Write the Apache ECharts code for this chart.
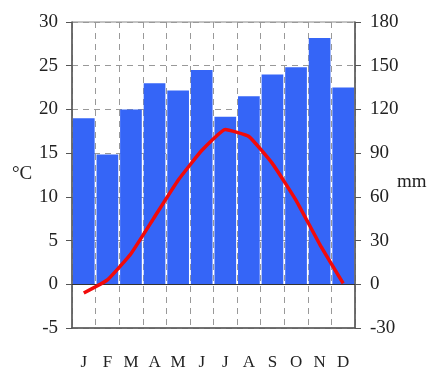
<!DOCTYPE html>
<html>
<head>
<meta charset="utf-8">
<script src="https://cdn.jsdelivr.net/npm/echarts@6/dist/echarts.min.js"></script>
<style>
  html, body { margin: 0; padding: 0; background: #fff; }
  #chart { width: 429px; height: 367px; }
</style>
</head>
<body>
<div id="chart"></div>
<script>
// Monthly climate data
const months = ['J', 'F', 'M', 'A', 'M', 'J', 'J', 'A', 'S', 'O', 'N', 'D'];
const precipitationMm = [114, 89, 120, 138, 133, 147, 115, 129, 144, 149, 169, 135];
const temperatureC = [-1.0, 0.5, 3.5, 7.7, 11.9, 15.3, 17.7, 16.9, 13.8, 9.6, 4.6, 0.1];
const tempTicks = { min: -5, max: 30, interval: 5 };
const rainTicks = { min: -30, max: 180, interval: 30 };

const serif = '"Liberation Serif", "DejaVu Serif", serif';
const axisGray = '#555';

const chart = echarts.init(document.getElementById('chart'), null, { renderer: 'canvas' });

chart.setOption({
  animation: false,
  backgroundColor: '#fff',
  textStyle: { fontFamily: serif },
  grid: {
    left: 72, right: 74, top: 22, bottom: 39,
    containLabel: false,
    outerBoundsMode: 'none',
    show: true, borderColor: '#888', borderWidth: 1
  },
  xAxis: {
    type: 'category',
    data: months,
    axisLine: { onZero: false, lineStyle: { color: axisGray, width: 1.5 } },
    axisTick: { show: false },
    axisLabel: { color: '#222', fontSize: 17, fontFamily: serif, margin: 26 },
    splitLine: { show: true, interval: 0, lineStyle: { color: '#999', type: [6, 5], width: 1 } }
  },
  yAxis: [
    {
      type: 'value',
      position: 'left',
      min: tempTicks.min, max: tempTicks.max, interval: tempTicks.interval,
      axisLine: { show: true, lineStyle: { color: axisGray, width: 1.5 } },
      axisTick: { show: true, inside: false, length: 6, lineStyle: { color: axisGray } },
      axisLabel: { color: '#222', fontSize: 19, fontFamily: serif, margin: 14 },
      splitLine: { show: true, lineStyle: { color: '#999', type: [6, 5], width: 1 } }
    },
    {
      type: 'value',
      position: 'right',
      min: rainTicks.min, max: rainTicks.max, interval: rainTicks.interval,
      axisLine: { show: true, lineStyle: { color: axisGray, width: 1.5 } },
      axisTick: { show: true, inside: false, length: 6, lineStyle: { color: axisGray } },
      axisLabel: { color: '#222', fontSize: 19, fontFamily: serif, margin: 15 },
      splitLine: { show: false }
    }
  ],
  series: [
    {
      name: 'Precipitation',
      type: 'bar',
      yAxisIndex: 1,
      data: precipitationMm,
      barCategoryGap: '8%',
      itemStyle: { color: '#3565f7' },
      z: 2
    },
    {
      name: 'Temperature',
      type: 'line',
      yAxisIndex: 0,
      data: temperatureC,
      smooth: 0.12,
      symbol: 'none',
      lineStyle: { color: '#f20a0a', width: 3.5 },
      z: 4,
      markLine: {
        silent: true,
        symbol: 'none',
        label: { show: false },
        lineStyle: { color: '#333', type: 'solid', width: 1.2 },
        data: [{ yAxis: 0 }],
        z: 3
      }
    }
  ],
  graphic: [
    { type: 'text', left: 12, top: 165, style: { text: '°C', font: '19px ' + serif, fill: '#222' } },
    { type: 'text', left: 397, top: 173, style: { text: 'mm', font: '19px ' + serif, fill: '#222' } }
  ]
});
</script>
</body>
</html>
